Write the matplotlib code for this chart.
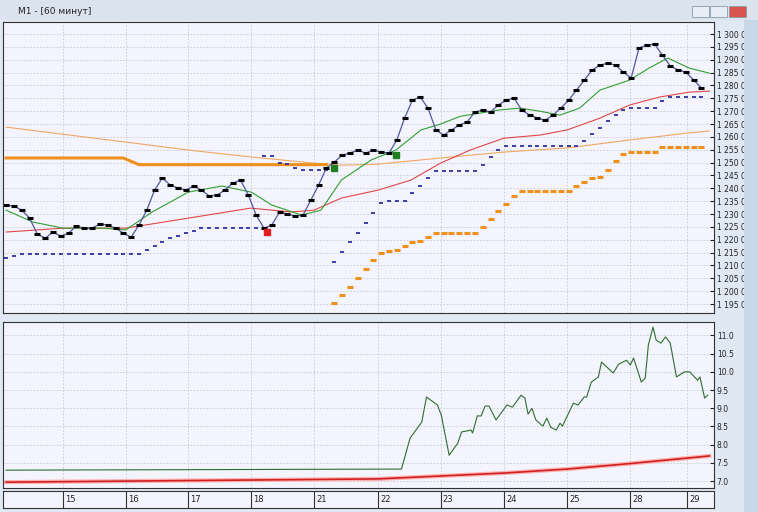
import numpy as np
import matplotlib
matplotlib.use('Agg')
import matplotlib.pyplot as plt
from matplotlib.patches import Rectangle

# day labels and the bar index where each day starts (8 bars per day)
day_labels = ['15', '16', '17', '18', '21', '22', '23', '24', '25', '28', '29']
day_pos = [7.25, 15.3, 23.3, 31.3, 39.4, 47.6, 55.6, 63.7, 71.8, 79.8, 87.2]

closes = [1.2335, 1.2331, 1.2315, 1.2284, 1.2222, 1.2206, 1.2230, 1.2214, 1.2226, 1.2253,
          1.2245, 1.2245, 1.2261, 1.2257, 1.2245, 1.2226, 1.2210, 1.2257, 1.2315, 1.2393,
          1.2440, 1.2413, 1.2401, 1.2393, 1.2409, 1.2393, 1.2370, 1.2374, 1.2393, 1.2420,
          1.2432, 1.2374, 1.2296, 1.2245, 1.2257, 1.2308, 1.2300, 1.2292, 1.2296, 1.2354,
          1.2413, 1.2479, 1.2502, 1.2529, 1.2537, 1.2549, 1.2537, 1.2549, 1.2541, 1.2537,
          1.2588, 1.2673, 1.2743, 1.2755, 1.2712, 1.2627, 1.2607, 1.2627, 1.2646, 1.2658,
          1.2697, 1.2704, 1.2697, 1.2724, 1.2743, 1.2751, 1.2704, 1.2685, 1.2673, 1.2665,
          1.2685, 1.2712, 1.2743, 1.2782, 1.2821, 1.2860, 1.2879, 1.2887, 1.2879, 1.2852,
          1.2829, 1.2946, 1.2957, 1.2961, 1.2918, 1.2876, 1.2860, 1.2852, 1.2821, 1.2790]

nan = np.nan
blue_stop = ([1.2129, 1.2137] + [1.2145] * 16 +
             [1.2160, 1.2175, 1.2190, 1.2205, 1.2215, 1.2225, 1.2235, 1.2245, 1.2245] +
             [1.2245] * 6 +
             [1.2525, 1.2525, 1.2500, 1.2495, 1.2480, 1.2470, 1.2470, 1.2470, 1.2470] +
             [1.2113, 1.2151, 1.2190, 1.2228, 1.2266, 1.2305, 1.2343, 1.2350, 1.2350, 1.2350,
              1.2380, 1.2410, 1.2440, 1.2468] + [1.2468] * 5 +
             [1.2490, 1.2520, 1.2550] + [1.2565] * 10 +
             [1.2585, 1.2610, 1.2635, 1.2660, 1.2685, 1.2705, 1.2712, 1.2712, 1.2712, 1.2712,
              1.2740] + [1.2755] * 5)
blue_side = ['below'] * 33 + ['above'] * 9 + ['below'] * 48

orange_old = [1.2518] * 16 + [1.2505, 1.2492] + [1.2492] * 24
orange_new = ([1.1955, 1.1985, 1.2015, 1.2050, 1.2085, 1.2120, 1.2148, 1.2155, 1.2160,
               1.2175, 1.2190, 1.2195, 1.2210] + [1.2228] * 6 +
              [1.2250, 1.2280, 1.2310, 1.2340, 1.2370] + [1.2390] * 7 +
              [1.2410, 1.2425, 1.2440, 1.2445, 1.2470, 1.2505, 1.2535, 1.2541,
               1.2541, 1.2541, 1.2541, 1.2560] + [1.2560] * 5)

slow_x = [0, 15.3, 23.3, 31.3, 39.4, 42.9, 47.6, 55.6, 63.7, 71.8, 79.8, 87.2, 90]
slow_ma = [1.2638, 1.2580, 1.2549, 1.2522, 1.2498, 1.2490, 1.2494, 1.2518, 1.2541,
           1.2557, 1.2588, 1.2615, 1.2623]

green_x = [0, 3.4, 7.3, 12.3, 15.3, 18.7, 23.3, 27.6, 31.4, 34.0, 37.8, 40.3, 42.9, 46.7,
           49.9, 53.1, 55.6, 58.1, 60.7, 63.2, 65.8, 68.3, 70.9, 73.4, 76.0, 79.8, 82.3,
           84.7, 87.4, 90]
green_ma = [1.2315, 1.2269, 1.2245, 1.2245, 1.2238, 1.2308, 1.2385, 1.2409, 1.2385, 1.2335,
            1.2296, 1.2315, 1.2432, 1.2510, 1.2549, 1.2627, 1.2650, 1.2680, 1.2693, 1.2705,
            1.2712, 1.2700, 1.2685, 1.2712, 1.2782, 1.2821, 1.2868, 1.2907, 1.2868, 1.2848]

red_x = [0, 7.3, 15.3, 23.3, 31.3, 36.5, 39.4, 42.9, 47.6, 51.8, 55.6, 59.4, 63.7, 68.3,
         71.8, 76.0, 79.8, 83.6, 87.4, 90]
red_ma = [1.2230, 1.2245, 1.2245, 1.2284, 1.2323, 1.2308, 1.2315, 1.2362, 1.2393, 1.2432,
          1.2498, 1.2549, 1.2595, 1.2607, 1.2627, 1.2673, 1.2724, 1.2755, 1.2774, 1.2778]

signal_x = [33.4, 42.0, 49.9]
signal_y = [1.2230, 1.2479, 1.2529]
signal_c = ['#e02020', '#208020', '#208020']

# lower panel
vol_x = [0, 50.6, 51.7, 53.2, 53.8, 55.2, 55.7, 56.7, 57.8, 58.3, 59.5, 59.7, 60.3, 60.8,
         61.3, 61.8, 62.7, 64.1, 64.8, 65.9, 66.4, 66.8, 67.3, 67.8, 68.7, 69.2, 69.7, 70.4,
         70.9, 71.2, 72.6, 73.2, 74.0, 74.3, 74.9, 75.8, 76.2, 77.7, 78.4, 79.4, 79.9, 80.3,
         81.3, 81.8, 82.2, 82.8, 83.2, 83.8, 84.4, 85.0, 85.8, 86.8, 87.5, 88.5, 88.8, 89.4,
         89.8]
vol_y = [7.30, 7.33, 8.18, 8.62, 9.31, 9.09, 8.81, 7.71, 8.04, 8.35, 8.40, 8.32, 8.79, 8.79,
         9.06, 9.06, 8.68, 9.09, 9.03, 9.36, 9.28, 8.84, 9.00, 8.68, 8.51, 8.73, 8.48, 8.40,
         8.59, 8.51, 9.14, 9.09, 9.31, 9.31, 9.72, 9.86, 10.27, 9.97, 10.21, 10.32, 10.19,
         10.38, 9.72, 9.83, 10.74, 11.23, 10.87, 10.79, 10.96, 10.79, 9.86, 10.00, 10.00,
         9.77, 9.86, 9.28, 9.36]
vol_ma_x = [0, 47.6, 63.7, 71.8, 79.8, 90]
vol_ma = [6.97, 7.06, 7.22, 7.33, 7.48, 7.69]

W, H = 758, 512
fig = plt.figure(figsize=(W / 100, H / 100), dpi=100)
fig.patch.set_facecolor('#dfe8f3')

def box(x0, y0, x1, y1):
    return [x0 / W, 1 - y1 / H, (x1 - x0) / W, (y1 - y0) / H]

# window chrome
fig.patches.append(Rectangle((0, 1 - 20 / H), 1, 20 / H, transform=fig.transFigure,
                             facecolor='#dbe4ee', edgecolor='none'))
fig.patches.append(Rectangle((744 / W, 0), 14 / W, 1 - 20 / H, transform=fig.transFigure,
                             facecolor='#c9d6e6', edgecolor='none'))
fig.text(18 / W, 1 - 11 / H, 'M1 - [60 минут]', fontsize=6.5, va='center', color='#222222')
for bx, bc in [(692, '#e8eef5'), (710, '#e8eef5'), (729, '#d9534f')]:
    fig.patches.append(Rectangle((bx / W, 1 - 17 / H), 17 / W, 11 / H,
                                 transform=fig.transFigure, facecolor=bc,
                                 edgecolor='#8899aa', lw=0.6))

bg = '#f3f4fd'
x = np.arange(len(closes))
xlim = (-0.4, 90.6)

ax = fig.add_axes(box(3, 22, 714, 313))
ax2 = fig.add_axes(box(3, 322, 714, 488))
axd = fig.add_axes(box(3, 491, 714, 508))

for a in (ax, ax2):
    a.set_facecolor(bg)
    a.set_xlim(*xlim)
    a.set_xticks(day_pos)
    a.set_xticklabels([])
    a.tick_params(axis='x', length=0)
    a.yaxis.tick_right()
    a.tick_params(axis='y', direction='in', length=3, labelsize=5.5, pad=2,
                  colors='#222222')
    a.grid(True, color='#c8c8d0', ls=(0, (2, 2)), lw=0.6)
    for s in a.spines.values():
        s.set_color('#333333')
        s.set_linewidth(0.8)

# price panel
ax.plot(slow_x, slow_ma, color='#f0a860', lw=0.8)
ax.plot(x[:42], orange_old, color='#f0901c', lw=2.2)
ax.plot(x[42:], orange_new, color='#f0901c', marker='_', ls='none', ms=4, mew=2.2)
bs = np.array(blue_stop)
side = np.array(blue_side)
ax.plot(x, np.where(side == 'below', bs, nan), color='#3030a0', marker='_', ls='none',
        ms=3.5, mew=1.3)
ax.plot(x, np.where(side == 'above', bs, nan), color='#3030a0', marker='_', ls='none',
        ms=3.5, mew=1.3)
ax.plot(red_x, red_ma, color='#e04848', lw=0.8)
ax.plot(green_x, green_ma, color='#30a030', lw=0.8)
ax.plot(x, closes, color='#5058a0', lw=0.9)
ax.plot(x, closes, color='black', marker='_', ls='none', ms=4.5, mew=2.2)
for sx, sy, sc in zip(signal_x, signal_y, signal_c):
    ax.plot(sx, sy, marker='s', color=sc, ms=4)
ax.set_ylim(1.1915, 1.3047)
yt = np.arange(1.195, 1.3001, 0.005)
ax.set_yticks(yt)
ax.set_yticklabels([f'1 {round(v * 1000) % 1000:03d} 000' for v in yt])

# lower panel
ax2.plot(vol_ma_x, vol_ma, color='#ffb0b0', lw=3)
ax2.plot(vol_ma_x, vol_ma, color='#d02020', lw=1.2)
ax2.plot(vol_x, vol_y, color='#2e6e2e', lw=0.8)
ax2.set_ylim(6.81, 11.37)
yt2 = np.arange(7.0, 11.01, 0.5)
ax2.set_yticks(yt2)
ax2.set_yticklabels([f'{v:.1f}' for v in yt2])

# date strip
axd.set_facecolor(bg)
axd.set_xlim(*xlim)
axd.set_ylim(0, 1)
axd.set_xticks([])
axd.set_yticks([])
for s in axd.spines.values():
    s.set_color('#333333')
    s.set_linewidth(0.8)
for p, lab in zip(day_pos, day_labels):
    axd.axvline(p, color='#333333', lw=0.8)
    axd.text(p + 0.3, 0.5, lab, fontsize=6, va='center', ha='left', color='#222222')

fig.savefig('out.png', dpi=100, facecolor=fig.get_facecolor())
